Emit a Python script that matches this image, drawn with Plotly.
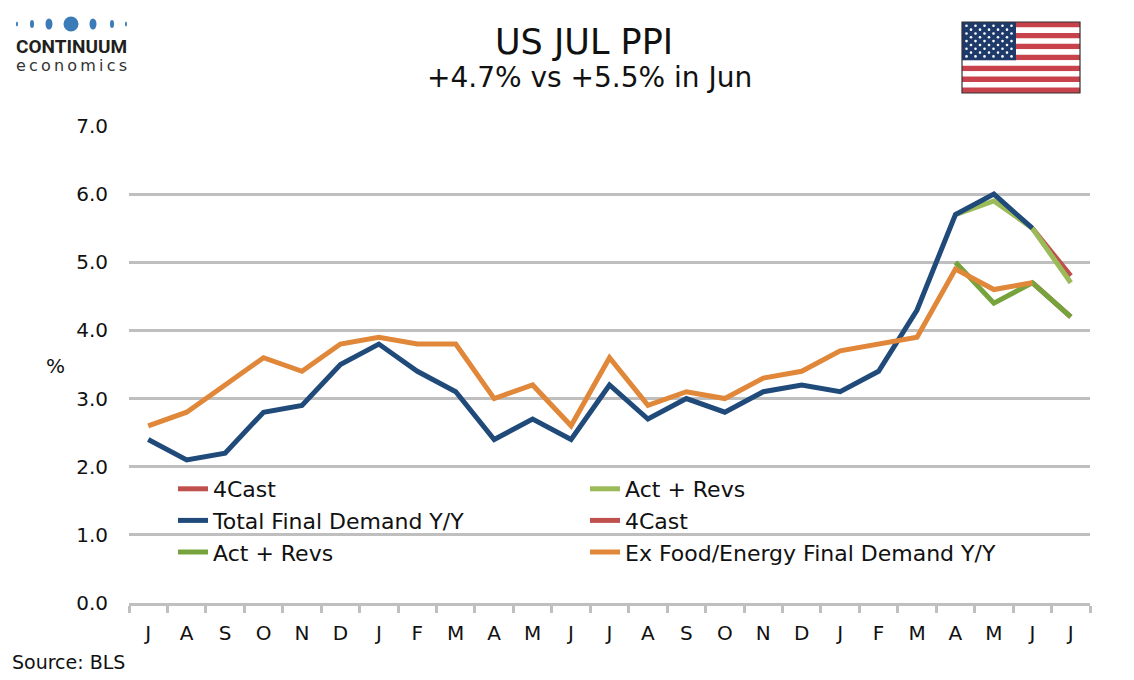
import plotly.graph_objects as go

# The page places the figure with an 8px body margin, so reference pixel
# positions are shifted by OFF when converted to paper coordinates.
OFF = 8
W, H = 1134 - OFF, 680 - OFF

months = ["J", "A", "S", "O", "N", "D", "J", "F", "M", "A", "M", "J",
          "J", "A", "S", "O", "N", "D", "J", "F", "M", "A", "M", "J", "J"]

total_fd = [2.4, 2.1, 2.2, 2.8, 2.9, 3.5, 3.8, 3.4, 3.1, 2.4, 2.7, 2.4,
            3.2, 2.7, 3.0, 2.8, 3.1, 3.2, 3.1, 3.4, 4.3, 5.7, 6.0, 5.5, None]
total_4cast = [None] * 23 + [5.5, 4.8]
total_act = [None] * 21 + [5.7, 5.9, 5.5, 4.7]

core_fd = [2.6, 2.8, 3.2, 3.6, 3.4, 3.8, 3.9, 3.8, 3.8, 3.0, 3.2, 2.6,
           3.6, 2.9, 3.1, 3.0, 3.3, 3.4, 3.7, 3.8, 3.9, 4.9, 4.6, 4.7, None]
core_4cast = [None] * 23 + [4.7, 4.2]
core_act = [None] * 21 + [5.0, 4.4, 4.7, 4.2]

x_idx = list(range(len(months)))

RED = "#C0504D"
LGREEN = "#9BBB59"
DGREEN = "#77A33C"
BLUE = "#1F4A7A"
ORANGE = "#E0873A"
GRID = "#BFBFBF"
FONT = "DejaVu Sans"


def px(x):
    return (x - OFF) / W


def py(y):
    return 1 - (y - OFF) / H


fig = go.Figure()
series = [
    ("4Cast", total_4cast, RED),
    ("Act + Revs", total_act, LGREEN),
    ("Total Final Demand Y/Y", total_fd, BLUE),
    ("4Cast", core_4cast, RED),
    ("Act + Revs", core_act, DGREEN),
    ("Ex Food/Energy Final Demand Y/Y", core_fd, ORANGE),
]
for name, vals, col in series:
    fig.add_trace(go.Scatter(x=x_idx, y=vals, name=name, mode="lines",
                             line=dict(color=col, width=5),
                             connectgaps=False))

shapes = []
annotations = []

# Title
annotations.append(dict(text="US JUL PPI", x=px(584), y=py(42), xref="paper", yref="paper",
                        showarrow=False, font=dict(family=FONT, size=35, color="#111"),
                        xanchor="center", yanchor="middle"))
annotations.append(dict(text="+4.7% vs +5.5% in Jun", x=px(589), y=py(78), xref="paper", yref="paper",
                        showarrow=False, font=dict(family=FONT, size=28, color="#111"),
                        xanchor="center", yanchor="middle"))
annotations.append(dict(text="%", x=px(55), y=py(366), xref="paper", yref="paper",
                        showarrow=False, font=dict(family=FONT, size=20, color="#111"),
                        xanchor="center", yanchor="middle"))
annotations.append(dict(text="Source: BLS", x=px(10), y=py(662), xref="paper", yref="paper",
                        showarrow=False, font=dict(family=FONT, size=19, color="#111"),
                        xanchor="left", yanchor="middle"))

# Logo
LOGO = "#3B7BB8"
dots = [(17, 1.0, 2.5), (32, 2.0, 4.0), (49, 3.5, 5.5), (71, 7.5, 7.5), (93, 3.5, 5.5), (112, 2.0, 4.0), (126, 1.0, 2.5)]
for cx, rx, ry in dots:
    shapes.append(dict(type="circle", xref="paper", yref="paper",
                       x0=px(cx - rx), x1=px(cx + rx), y0=py(24 + ry), y1=py(24 - ry),
                       fillcolor=LOGO, line=dict(width=0)))
logo_text = ("<span style='font-family:Roboto;font-size:19px;font-weight:bold;color:#231F20'>CONTINUUM</span>"
             "<br><span style='font-size:16px;color:#333'>" + "\u2009".join("economics") + "</span>")
annotations.append(dict(text=logo_text, x=px(14), y=py(55), xref="paper", yref="paper",
                        showarrow=False, align="left",
                        font=dict(family=FONT, size=14, color="#333"),
                        xanchor="left", yanchor="middle"))

# Flag
fx0, fx1, fy0, fy1 = 962, 1080, 22, 93
sh = (fy1 - fy0) / 13
for i in range(13):
    col = "#C8424C" if i % 2 == 0 else "#FFFFFF"
    shapes.append(dict(type="rect", xref="paper", yref="paper",
                       x0=px(fx0), x1=px(fx1), y0=py(fy0 + sh * (i + 1)), y1=py(fy0 + sh * i),
                       fillcolor=col, line=dict(width=0)))
cx1, cy1 = 1016, fy0 + sh * 7
shapes.append(dict(type="rect", xref="paper", yref="paper",
                   x0=px(fx0), x1=px(cx1), y0=py(cy1), y1=py(fy0),
                   fillcolor="#1E3A6B", line=dict(width=0)))
for r in range(9):
    yy = fy0 + (cy1 - fy0) * (r + 1) / 10
    n = 6 if r % 2 == 0 else 5
    for c in range(n):
        if n == 6:
            xx = fx0 + (cx1 - fx0) * (2 * c + 1) / 12
        else:
            xx = fx0 + (cx1 - fx0) * (2 * c + 2) / 12
        shapes.append(dict(type="circle", xref="paper", yref="paper",
                           x0=px(xx - 1.3), x1=px(xx + 1.3), y0=py(yy + 1.3), y1=py(yy - 1.3),
                           fillcolor="#FFFFFF", line=dict(width=0)))
shapes.append(dict(type="rect", xref="paper", yref="paper",
                   x0=px(fx0), x1=px(fx1), y0=py(fy1), y1=py(fy0),
                   fillcolor="rgba(0,0,0,0)", line=dict(width=1.2, color="#333")))

fig.update_layout(
    width=W, height=H, autosize=False,
    margin=dict(l=0, r=0, t=0, b=0),
    paper_bgcolor="white", plot_bgcolor="white",
    font=dict(family=FONT, size=20, color="#111"),
    showlegend=True,
    legend=dict(orientation="h", x=px(173), y=py(468), xanchor="left", yanchor="top",
                bgcolor="rgba(0,0,0,0)", font=dict(family=FONT, size=22, color="#111"),
                entrywidth=367, entrywidthmode="pixels", itemwidth=30,
                traceorder="normal"),
    xaxis=dict(domain=[px(129), px(1090)], range=[-0.5, 24.5],
               tickmode="array", tickvals=x_idx, ticktext=months, ticks="",
               showgrid=False, zeroline=False, showline=True, linecolor=GRID, linewidth=2.5,
               ticklabelstandoff=10, automargin=False,
               tickfont=dict(family=FONT, size=20, color="#111"),
               minor=dict(ticks="outside", tick0=-0.5, dtick=1, ticklen=7,
                          tickcolor=GRID, tickwidth=2.5, showgrid=False)),
    yaxis=dict(domain=[py(603), py(126)], range=[0, 7], dtick=1, tickformat=".1f",
               showgrid=True, gridcolor=GRID, gridwidth=2.5, zeroline=False, showline=False,
               ticks="", ticklabelstandoff=20, automargin=False,
               tickfont=dict(family=FONT, size=20, color="#111")),
    shapes=shapes,
    annotations=annotations,
)

fig.write_html("out.html")
